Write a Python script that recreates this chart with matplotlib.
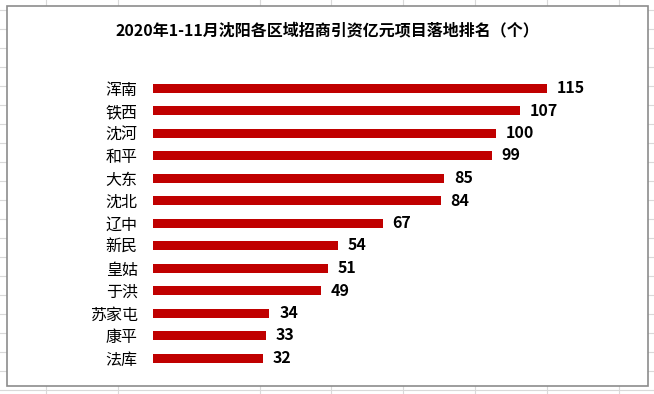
import matplotlib
matplotlib.use("Agg")
import matplotlib.pyplot as plt
from matplotlib.patches import Rectangle
from matplotlib.lines import Line2D

# data (top to bottom)
districts = ["浑南", "铁西", "沈河", "和平", "大东", "沈北", "辽中",
             "新民", "皇姑", "于洪", "苏家屯", "康平", "法库"]
projects = [115, 107, 100, 99, 85, 84, 67, 54, 51, 49, 34, 33, 32]
title = "2020年1-11月沈阳各区域招商引资亿元项目落地排名（个）"

plt.rcParams['font.family'] = ['Noto Sans CJK SC', 'DejaVu Sans']

W, H = 654, 394
fig = plt.figure(figsize=(W / 100, H / 100), dpi=100)

# excel sheet grid in the background
for y in range(10, H, 19):
    fig.add_artist(Line2D([0, 1], [1 - y / H, 1 - y / H], color='#d9d9d9', lw=0.8, zorder=0))
for x in [46, 118, 260, 331, 403, 475, 547, 619]:
    fig.add_artist(Line2D([x / W, x / W], [0, 1], color='#d9d9d9', lw=0.8, zorder=0))

# chart area with gray frame
fig.add_artist(Rectangle((7 / W, 1 - 386 / H), (648 - 7) / W, (386 - 6) / H,
                         facecolor='white', edgecolor='#8c8c8c', lw=1.2, zorder=1))

ax = fig.add_axes([153 / W, 1 - 369.25 / H, 479.6 / W, 292.5 / H], zorder=2)
ax.patch.set_alpha(0)
ypos = range(len(districts))
ax.barh(ypos, projects, height=0.4, color='#c00000')
for y, v in zip(ypos, projects):
    ax.annotate(str(v), (v, y), xytext=(7, 0), textcoords='offset points',
                va='center', ha='left', fontsize=11.5, fontweight='bold')

ax.set_xlim(0, 140)
ax.set_ylim(12.5, -0.5)
ax.set_yticks(list(ypos))
ax.set_yticklabels(districts, fontsize=11.5)
ax.tick_params(axis='y', length=0, pad=11)
ax.set_xticks([])
for s in ax.spines.values():
    s.set_visible(False)

fig.text(0.5, 1 - 30 / H, title, ha='center', va='center',
         fontsize=11.5, fontweight='bold')

fig.savefig('out.png', dpi=100)
